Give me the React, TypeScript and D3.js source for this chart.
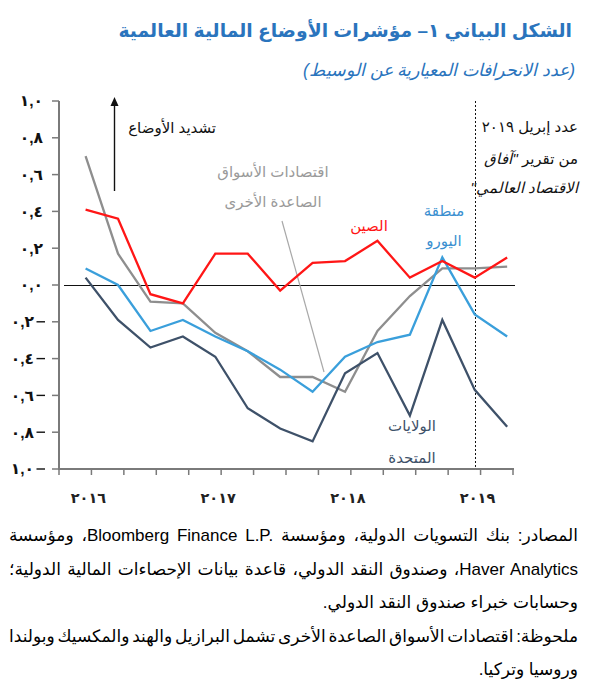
import React, { useEffect, useRef } from "react";
import * as d3 from "d3";

// quarterly observations, Q1 2016 to Q2 2019
const quarters = [
  "2016Q1", "2016Q2", "2016Q3", "2016Q4",
  "2017Q1", "2017Q2", "2017Q3", "2017Q4",
  "2018Q1", "2018Q2", "2018Q3", "2018Q4",
  "2019Q1", "2019Q2",
];
const chinaValues = [0.41, 0.36, -0.05, -0.1, 0.17, 0.17, -0.03, 0.12, 0.13, 0.24, 0.04, 0.13, 0.04, 0.15];
const euroValues = [0.09, 0.0, -0.25, -0.19, -0.28, -0.36, -0.46, -0.58, -0.39, -0.31, -0.27, 0.15, -0.16, -0.28];
const otherEmValues = [0.7, 0.17, -0.09, -0.1, -0.26, -0.36, -0.5, -0.5, -0.58, -0.25, -0.06, 0.09, 0.09, 0.1];
const usValues = [0.04, -0.19, -0.34, -0.28, -0.39, -0.67, -0.78, -0.85, -0.48, -0.37, -0.71, -0.19, -0.57, -0.77];

const yTicks = [1, 0.8, 0.6, 0.4, 0.2, 0, -0.2, -0.4, -0.6, -0.8, -1];
const yTickLabels = ["١,٠", "٠,٨", "٠,٦", "٠,٤", "٠,٢", "٠,٠", "٠,٢", "٠,٤", "٠,٦", "٠,٨", "١,٠"];
const yearLabels = ["٢٠١٦", "٢٠١٧", "٢٠١٨", "٢٠١٩"];
const yearTickIndex = [1, 5, 9, 13];
const weoQuarter = "2019Q1"; // April 2019 GFSR marker

const titleText = "الشكل البياني ١– مؤشرات الأوضاع المالية العالمية";
const subtitleText = "(عدد الانحرافات المعيارية عن الوسيط)";
const footerLines = [
  "المصادر: بنك التسويات الدولية، ومؤسسة Bloomberg Finance L.P.\u200E، ومؤسسة",
  "Haver Analytics، وصندوق النقد الدولي، قاعدة بيانات الإحصاءات المالية الدولية؛",
  "وحسابات خبراء صندوق النقد الدولي.",
  "ملحوظة: اقتصادات الأسواق الصاعدة الأخرى تشمل البرازيل والهند والمكسيك وبولندا",
  "وروسيا وتركيا.",
];
const footerJustified = [true, true, false, true, false];

const series = [
  { name: "otherEm", values: otherEmValues, color: "#8e8e8e" },
  { name: "euro", values: euroValues, color: "#3a9fdb" },
  { name: "us", values: usValues, color: "#3e5169" },
  { name: "china", values: chinaValues, color: "#ff1616" },
];

const FONT = "'Liberation Sans', 'DejaVu Sans', Arial, sans-serif";

const App: React.FC = () => {
  const svgRef = useRef<SVGSVGElement | null>(null);

  const width = 590;
  const height = 693;
  const plot = { left: 59, right: 513, top: 101, bottom: 469 };
  const pointOffset = 0.82; // points sit near the end of each quarter

  const xScale = d3.scaleLinear().domain([0, quarters.length]).range([plot.left, plot.right]);
  const yScale = d3.scaleLinear().domain([-1, 1]).range([plot.bottom, plot.top]);
  const xPoint = (i: number) => xScale(i + pointOffset);

  const line = d3
    .line<number>()
    .x((_, i) => xPoint(i))
    .y((d) => yScale(d));

  const weoX = Math.round(xPoint(quarters.indexOf(weoQuarter))) + 0.5;
  const zeroY = Math.round(yScale(0)) + 0.5;

  // justify the long footer lines like the printed note
  useEffect(() => {
    const svg = d3.select(svgRef.current);
    svg.selectAll<SVGTextElement, unknown>("text.justify").each(function () {
      const el = d3.select(this);
      el.attr("word-spacing", 0);
      const target = +(this.getAttribute("data-width") || 0);
      const len = this.getComputedTextLength();
      const spaces = ((this.textContent || "").match(/ /g) || []).length;
      if (spaces) el.attr("word-spacing", (target - len) / spaces);
    });
  }, []);

  const ticks = d3.range(0, quarters.length + 1);

  return (
    <svg
      ref={svgRef}
      width={width}
      height={height}
      style={{ position: "absolute", left: 0, top: 0, background: "#fff" }}
      fontFamily={FONT}
    >
      {/* title */}
      <text x={572} y={37} direction="rtl" textAnchor="start" fontSize={18.8} fontWeight="bold" fill="#2a74bd">
        {titleText}
      </text>
      <text x={575} y={76} direction="rtl" textAnchor="start" fontSize={17.5} fontStyle="italic" fill="#2a74bd">
        {subtitleText}
      </text>

      {/* zero line */}
      <line x1={plot.left + 5} x2={plot.right + 2} y1={zeroY} y2={zeroY} stroke="#111" strokeWidth={1} />

      {/* WEO marker */}
      <line x1={weoX} x2={weoX} y1={plot.top} y2={plot.bottom} stroke="#111" strokeWidth={1} strokeDasharray="2,2" />

      {/* pointer for other EM label */}
      <line x1={282} y1={221} x2={324} y2={372} stroke="#a8a8a8" strokeWidth={1.2} />

      {/* series */}
      {series.map((s) => (
        <path key={s.name} d={line(s.values) || ""} fill="none" stroke={s.color} strokeWidth={2.3} strokeLinejoin="miter" />
      ))}

      {/* y axis */}
      <line x1={plot.left} x2={plot.left} y1={plot.top} y2={plot.bottom + 1} stroke="#7a7a7a" strokeWidth={2} />
      {yTicks.map((t, i) => (
        <g key={t} transform={`translate(0,${yScale(t)})`}>
          <line x1={plot.left - 7} x2={plot.left} stroke="#7a7a7a" strokeWidth={1.5} />
          {t < 0 ? (
            <>
              <text x={34} dy="0.35em" textAnchor="end" fontSize={15.5} fontWeight="bold" fill="#111" letterSpacing={1.5}>
                {yTickLabels[i]}
              </text>
              <line x1={36.5} x2={45} stroke="#111" strokeWidth={1.4} />
            </>
          ) : (
            <text x={43} dy="0.35em" textAnchor="end" fontSize={15.5} fontWeight="bold" fill="#111" letterSpacing={1.5}>
              {yTickLabels[i]}
            </text>
          )}
        </g>
      ))}

      {/* x axis */}
      <line x1={plot.left} x2={plot.right + 1} y1={plot.bottom} y2={plot.bottom} stroke="#7a7a7a" strokeWidth={2} />
      {ticks.map((t) => (
        <line key={t} x1={xScale(t)} x2={xScale(t)} y1={plot.bottom} y2={plot.bottom + 6} stroke="#7a7a7a" strokeWidth={1.5} />
      ))}
      {yearLabels.map((label, i) => (
        <text key={label} x={xScale(yearTickIndex[i]) - 3} y={503} textAnchor="middle" fontSize={14.5} fontWeight="bold" fill="#222" letterSpacing={2}>
          {label}
        </text>
      ))}

      {/* tightening arrow */}
      <line x1={114.5} x2={114.5} y1={191} y2={104} stroke="#111" strokeWidth={1.4} />
      <path d="M110.5,106 L114.5,97 L118.5,106 Z" fill="#111" />
      <text x={216} y={133} direction="rtl" textAnchor="start" fontSize={15} fill="#111">
        تشديد الأوضاع
      </text>

      {/* series labels */}
      <text x={273} y={177} direction="rtl" textAnchor="middle" fontSize={15} fill="#9a9a9a">اقتصادات الأسواق</text>
      <text x={273} y={207} direction="rtl" textAnchor="middle" fontSize={15} fill="#9a9a9a">الصاعدة الأخرى</text>
      <text x={369} y={231} direction="rtl" textAnchor="middle" fontSize={15} fill="#ff1616">الصين</text>
      <text x={444} y={216} direction="rtl" textAnchor="middle" fontSize={15} fill="#3a8fd0">منطقة</text>
      <text x={444} y={246} direction="rtl" textAnchor="middle" fontSize={15} fill="#3a8fd0">اليورو</text>
      <text x={412} y={431} direction="rtl" textAnchor="middle" fontSize={15} fill="#3e5169">الولايات</text>
      <text x={412} y={463} direction="rtl" textAnchor="middle" fontSize={15} fill="#3e5169">المتحدة</text>

      {/* WEO annotation */}
      <text x={578} y={132} direction="rtl" textAnchor="start" fontSize={15} fill="#111">عدد إبريل ٢٠١٩</text>
      <text x={578} y={164} direction="rtl" textAnchor="start" fontSize={15} fill="#111">
        من تقرير <tspan fontStyle="italic">"آفاق</tspan>
      </text>
      <text x={578} y={193} direction="rtl" textAnchor="start" fontSize={15} fill="#111" fontStyle="italic">
        الاقتصاد العالمي"
      </text>

      {/* sources and note */}
      {footerLines.map((l, i) => (
        <text
          key={i}
          className={footerJustified[i] ? "justify" : undefined}
          data-width={footerJustified[i] ? 569 : undefined}
          x={578}
          y={541 + i * 33.6}
          direction="rtl"
          textAnchor="start"
          fontSize={17}
          fill="#000"
        >
          {l}
        </text>
      ))}
    </svg>
  );
};

export default App;
